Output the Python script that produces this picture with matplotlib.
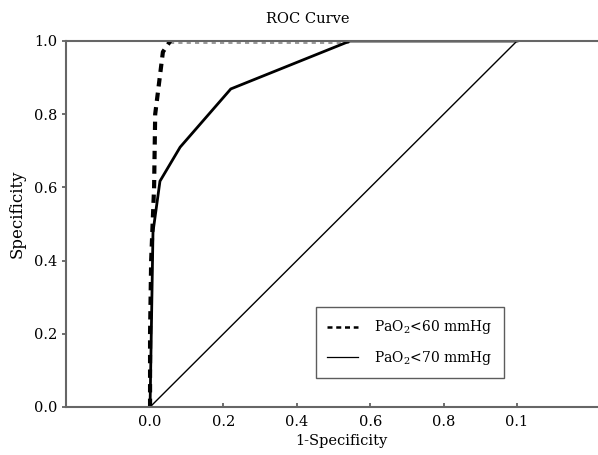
import matplotlib
matplotlib.use("Agg")
import matplotlib.pyplot as plt

plt.rcParams["font.family"] = "DejaVu Serif"
plt.rcParams["mathtext.fontset"] = "dejavuserif"

# ROC points
fpr_60 = [0.0, 0.0, 0.003, 0.011, 0.014, 0.035, 0.055]
tpr_60 = [0.0, 0.2, 0.4, 0.6, 0.8, 0.97, 1.0]
# flat part of the dashed curve along the top
fpr_60_top = [0.055, 0.545]
tpr_60_top = [0.995, 0.995]

fpr_70 = [0.0, 0.008, 0.027, 0.082, 0.22, 0.545, 1.0]
tpr_70 = [0.0, 0.478, 0.617, 0.71, 0.869, 1.0, 1.0]

ref_line = [0.0, 1.0]

x_ticks = [0.0, 0.2, 0.4, 0.6, 0.8, 1.0]
x_tick_labels = ["0.0", "0.2", "0.4", "0.6", "0.8", "0.1"]
y_ticks = [0.0, 0.2, 0.4, 0.6, 0.8, 1.0]
y_tick_labels = ["0.0", "0.2", "0.4", "0.6", "0.8", "1.0"]

fig = plt.figure(figsize=(5.98, 4.55), dpi=100)
ax = fig.add_axes([0.1104, 0.1055, 0.8896, 0.8044])

ax.plot(ref_line, ref_line, color="black", lw=1.0)
ax.plot(fpr_60_top, tpr_60_top, color="#888888", lw=1.2, ls=(0, (2.5, 2.5)))
ax.plot(fpr_70, tpr_70, color="black", lw=2.0, solid_joinstyle="miter")
ax.plot(fpr_60, tpr_60, color="black", lw=3.0, ls=(0, (2.0, 1.5)))

ax.set_xlim(-0.229, 1.2207)
ax.set_ylim(0.0, 1.0)

ax.set_xticks(x_ticks)
ax.set_xticklabels(x_tick_labels)
ax.set_yticks(y_ticks)
ax.set_yticklabels(y_tick_labels)
ax.tick_params(labelsize=10.5, length=3, color="#555555", width=1.2)
ax.tick_params(axis="x", direction="in", pad=6)

for side in ["left", "bottom", "top"]:
    ax.spines[side].set_color("#666666")
    ax.spines[side].set_linewidth(1.5)
ax.spines["right"].set_visible(False)

ax.set_xlabel("1-Specificity", fontsize=10.5)
ax.set_ylabel("Specificity", fontsize=12)
ax.xaxis.set_label_coords(0.517, -0.075)
ax.yaxis.set_label_coords(-0.075, 0.527)
fig.text(0.515, 0.958, "ROC Curve", ha="center", va="center", fontsize=10.5)

h1, = ax.plot([], [], color="black", lw=1.8, ls=(0, (2.0, 1.5)))
h2, = ax.plot([], [], color="black", lw=0.9)
leg = ax.legend([h1, h2], ["PaO$_2$<60 mmHg", "PaO$_2$<70 mmHg"],
                loc="lower left", bbox_to_anchor=(0.47, 0.079),
                borderaxespad=0, fontsize=10, frameon=True, fancybox=False,
                handlelength=2.2, labelspacing=0.9, borderpad=0.8,
                handletextpad=1.2)
leg.get_frame().set_edgecolor("#333333")
leg.get_frame().set_linewidth(1.0)

fig.savefig("out.png", dpi=100)
